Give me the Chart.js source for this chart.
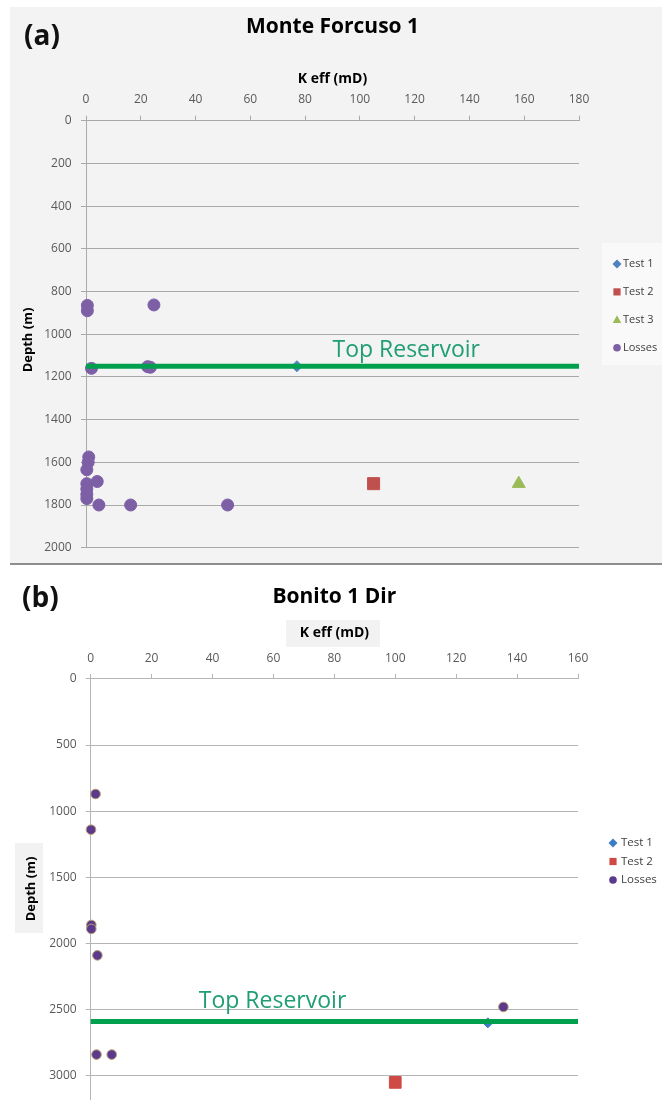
<!DOCTYPE html>
<html>
<head>
<meta charset="utf-8">
<title>K eff vs Depth</title>
<script src="https://cdn.jsdelivr.net/npm/chart.js@4.4.1/dist/chart.umd.min.js"></script>
<style>
  html, body { margin: 0; padding: 0; background: #ffffff; overflow: hidden; }
  #page { position: relative; width: 662px; height: 1100px; overflow: hidden; font-family: 'Open Sans', sans-serif; }
  #panelA { position: absolute; left: 10px; top: 7px; width: 652px; height: 556px; background: #f3f3f3; }
  #panelRule { position: absolute; left: 10px; top: 563px; width: 652px; height: 2px; background: #8e8e8e; }
  .tag { position: absolute; font-weight: bold; font-size: 28px; line-height: 28px; color: #111; }
  .shade { position: absolute; background: #f2f2f2; }
  canvas { position: absolute; left: 0; }
  #chartA { top: 0; }
  #chartB { top: 565px; }
</style>
</head>
<body>
<div id="page">
  <div id="panelA"></div>
  <div id="panelRule"></div>
  <div class="shade" style="left:286px;top:620px;width:94px;height:27px;"></div>
  <div class="shade" style="left:15px;top:843px;width:28px;height:90px;"></div>
  <canvas id="chartA" width="662" height="565"></canvas>
  <canvas id="chartB" width="662" height="600"></canvas>
  <div class="tag" style="left:24px;top:20px;">(a)</div>
  <div class="tag" style="left:22px;top:582px;">(b)</div>
</div>
<script>
// ---- Monte Forcuso 1 : effective permeability (mD) against depth (m) ----
const mfKRange = [0, 180];
const mfKStep = 20;
const mfDepthRange = [0, 2000];
const mfDepthStep = 200;
const mfTest1K = [77];
const mfTest1Depth = [1150];
const mfTest2K = [105];
const mfTest2Depth = [1700];
const mfTest3K = [158];
const mfTest3Depth = [1700];
const mfLossK = [0.5, 0.5, 24.8, 2, 22.5, 23.5, 1, 0.8, 0.3, 0.3, 0.3, 0.3, 0.3, 4.1, 4.7, 16.3, 51.7];
const mfLossDepth = [865, 890, 863, 1160, 1152, 1155, 1575, 1600, 1635, 1700, 1725, 1750, 1770, 1690, 1800, 1800, 1800];
const mfTopReservoir = 1150;

// ---- Bonito 1 Dir ----
const bnKRange = [0, 160];
const bnKStep = 20;
const bnDepthRange = [0, 3500];
const bnDepthStep = 500;
const bnTest1K = [130.4];
const bnTest1Depth = [2600];
const bnTest2K = [100];
const bnTest2Depth = [3050];
const bnLossK = [1.6, 0.1, 0.2, 0.2, 2.2, 135.5, 1.9, 6.9];
const bnLossDepth = [870, 1140, 1860, 1890, 2090, 2480, 2840, 2840];
const bnTopReservoir = 2590;

const FONT = "'Open Sans', sans-serif";
const zip = (ks, ds) => ks.map((k, i) => ({ x: k, y: ds[i] }));
const plainNumber = v => String(v);

// marker shapes used in the side legend
function drawMarker(ctx, style, x, y, r, fill) {
  ctx.fillStyle = fill;
  ctx.beginPath();
  if (style === 'rectRot') {
    ctx.moveTo(x, y - r); ctx.lineTo(x + r, y); ctx.lineTo(x, y + r); ctx.lineTo(x - r, y);
  } else if (style === 'rect') {
    ctx.rect(x - r * 0.8, y - r * 0.8, r * 1.6, r * 1.6);
  } else if (style === 'triangle') {
    ctx.moveTo(x, y - r); ctx.lineTo(x + r * 0.95, y + r * 0.7); ctx.lineTo(x - r * 0.95, y + r * 0.7);
  } else {
    ctx.arc(x, y, r * 0.85, 0, Math.PI * 2);
  }
  ctx.closePath();
  ctx.fill();
}

const sideLegend = {
  id: 'sideLegend',
  afterDraw(chart, args, o) {
    const ctx = chart.ctx;
    ctx.save();
    if (o.box) { ctx.fillStyle = o.box.color; ctx.fillRect(o.box.x, o.box.y, o.box.w, o.box.h); }
    ctx.font = `${o.fontSize}px ${FONT}`;
    ctx.textBaseline = 'middle';
    let i = 0;
    chart.data.datasets.forEach(ds => {
      if (ds.inLegend === false) return;
      const y = o.y + i * o.gap;
      drawMarker(ctx, ds.pointStyle, o.x, y, o.marker, ds.backgroundColor);
      ctx.fillStyle = o.color;
      ctx.fillText(ds.label, o.x + o.textGap, y);
      i++;
    });
    ctx.restore();
  }
};

const reservoirLabel = {
  id: 'reservoirLabel',
  afterDatasetsDraw(chart, args, o) {
    const ctx = chart.ctx;
    ctx.save();
    ctx.font = `${o.size}px ${FONT}`;
    ctx.fillStyle = o.color;
    ctx.textBaseline = 'alphabetic';
    ctx.textAlign = 'left';
    ctx.fillText(o.text, chart.scales.x.getPixelForValue(o.k), chart.scales.y.getPixelForValue(o.depth) - o.lift);
    ctx.restore();
  }
};

const depthTitle = {
  id: 'depthTitle',
  afterDraw(chart, args, o) {
    const ctx = chart.ctx;
    ctx.save();
    ctx.translate(o.x, o.y);
    ctx.rotate(-Math.PI / 2);
    ctx.font = `bold ${o.size}px ${FONT}`;
    ctx.fillStyle = '#000';
    ctx.textAlign = 'center';
    ctx.textBaseline = 'middle';
    ctx.fillText(o.text, 0, 0);
    ctx.restore();
  }
};

function buildChart(id, cfg) {
  const grid = cfg.gridColor;
  return new Chart(document.getElementById(id), {
    type: 'scatter',
    data: { datasets: cfg.datasets },
    options: {
      responsive: false,
      animation: false,
      events: [],
      layout: { padding: cfg.padding },
      plugins: {
        legend: { display: false },
        tooltip: { enabled: false },
        title: {
          display: true, text: cfg.title, fullSize: false, color: '#000',
          font: { family: FONT, size: 21, weight: 'bold' },
          padding: cfg.titlePad
        },
        sideLegend: cfg.legend,
        reservoirLabel: cfg.reservoir,
        depthTitle: cfg.depthTitle
      },
      scales: {
        x: {
          type: 'linear', position: 'top',
          min: cfg.kRange[0], max: cfg.kRange[1],
          ticks: { stepSize: cfg.kStep, color: '#595959', font: { family: FONT, size: 12 }, padding: cfg.xTickPad, callback: plainNumber },
          grid: { display: true, drawOnChartArea: false, tickLength: 5, color: grid },
          border: { color: grid },
          title: {
            display: true, text: 'K eff (mD)', color: '#000',
            font: { family: FONT, size: 14, weight: 'bold' },
            padding: { top: cfg.xTitlePad, bottom: 0 }
          },
          afterFit: s => { s.height = cfg.xHeight; }
        },
        y: {
          type: 'linear', reverse: true,
          min: cfg.depthRange[0], max: cfg.depthRange[1],
          ticks: { stepSize: cfg.depthStep, color: '#595959', font: { family: FONT, size: 12 }, padding: cfg.yTickPad, callback: plainNumber },
          grid: { color: grid, tickLength: 5 },
          border: { color: grid },
          afterFit: s => { s.width = cfg.yWidth; }
        }
      }
    },
    plugins: [sideLegend, reservoirLabel, depthTitle]
  });
}

function reservoirLine(kRange, depth) {
  return {
    label: 'Top Reservoir', inLegend: false, showLine: true, order: 0,
    data: [{ x: kRange[0], y: depth }, { x: kRange[1], y: depth }],
    borderColor: '#00a04e', borderWidth: 5, pointRadius: 0, clip: false
  };
}

buildChart('chartA', {
  title: 'Monte Forcuso 1',
  padding: { left: 0, right: 83, top: 0, bottom: 17.3 },
  titlePad: { top: 14, bottom: 10.8 },
  xHeight: 70.7, xTitlePad: 20.5, xTickPad: 8.5,
  yWidth: 86, yTickPad: 9.3,
  kRange: mfKRange, kStep: mfKStep,
  depthRange: mfDepthRange, depthStep: mfDepthStep,
  gridColor: '#a9a9a9',
  datasets: [
    { label: 'Test 1', data: zip(mfTest1K, mfTest1Depth), pointStyle: 'rectRot', radius: 5.5,
      backgroundColor: '#4f81bd', borderColor: '#4f81bd', order: 1, clip: false },
    { label: 'Test 2', data: zip(mfTest2K, mfTest2Depth), pointStyle: 'rect', radius: 8.5,
      backgroundColor: '#c0504d', borderColor: '#c0504d', order: 1, clip: false },
    { label: 'Test 3', data: zip(mfTest3K, mfTest3Depth), pointStyle: 'triangle', radius: 7.5,
      backgroundColor: '#9bbb59', borderColor: '#9bbb59', order: 1, clip: false },
    { label: 'Losses', data: zip(mfLossK, mfLossDepth), pointStyle: 'circle', radius: 6,
      backgroundColor: '#7d5fa6', borderColor: '#7d5fa6', order: 1, clip: false },
    reservoirLine(mfKRange, mfTopReservoir)
  ],
  legend: { x: 617, y: 264, gap: 27.9, marker: 4.5, textGap: 6, fontSize: 11, color: '#404040',
            box: { x: 602, y: 243, w: 60, h: 122, color: '#f9f9f9' } },
  reservoir: { text: 'Top Reservoir', k: 90, depth: mfTopReservoir, lift: 9, size: 23, color: '#1f9e74' },
  depthTitle: { text: 'Depth (m)', x: 28.5, y: 340, size: 13 }
});

buildChart('chartB', {
  title: 'Bonito 1 Dir',
  padding: { left: 0, right: 84, top: 0, bottom: 23.1 },
  titlePad: { top: 19.4, bottom: 5.4 },
  xHeight: 63.9, xTitlePad: 9.8, xTickPad: 7.7,
  yWidth: 90.7, yTickPad: 9,
  kRange: bnKRange, kStep: bnKStep,
  depthRange: bnDepthRange, depthStep: bnDepthStep,
  gridColor: '#b5b5b5',
  datasets: [
    { label: 'Test 1', data: zip(bnTest1K, bnTest1Depth), pointStyle: 'rectRot', radius: 5,
      backgroundColor: '#3b7dc4', borderColor: '#3b7dc4', order: 1, clip: false },
    { label: 'Test 2', data: zip(bnTest2K, bnTest2Depth), pointStyle: 'rect', radius: 8.3,
      backgroundColor: '#d04a45', borderColor: '#d04a45', order: 1, clip: false },
    { label: 'Losses', data: zip(bnLossK, bnLossDepth), pointStyle: 'circle', radius: 4.8,
      backgroundColor: '#5b3a8e', borderColor: '#b79c6e', borderWidth: 1, order: 1, clip: false },
    reservoirLine(bnKRange, bnTopReservoir)
  ],
  legend: { x: 613, y: 278, gap: 18.5, marker: 4.5, textGap: 8, fontSize: 11.5, color: '#404040' },
  reservoir: { text: 'Top Reservoir', k: 35.5, depth: bnTopReservoir, lift: 14, size: 23, color: '#1f9e74' },
  depthTitle: { text: 'Depth (m)', x: 31.5, y: 324, size: 13 }
});
</script>
</body>
</html>
